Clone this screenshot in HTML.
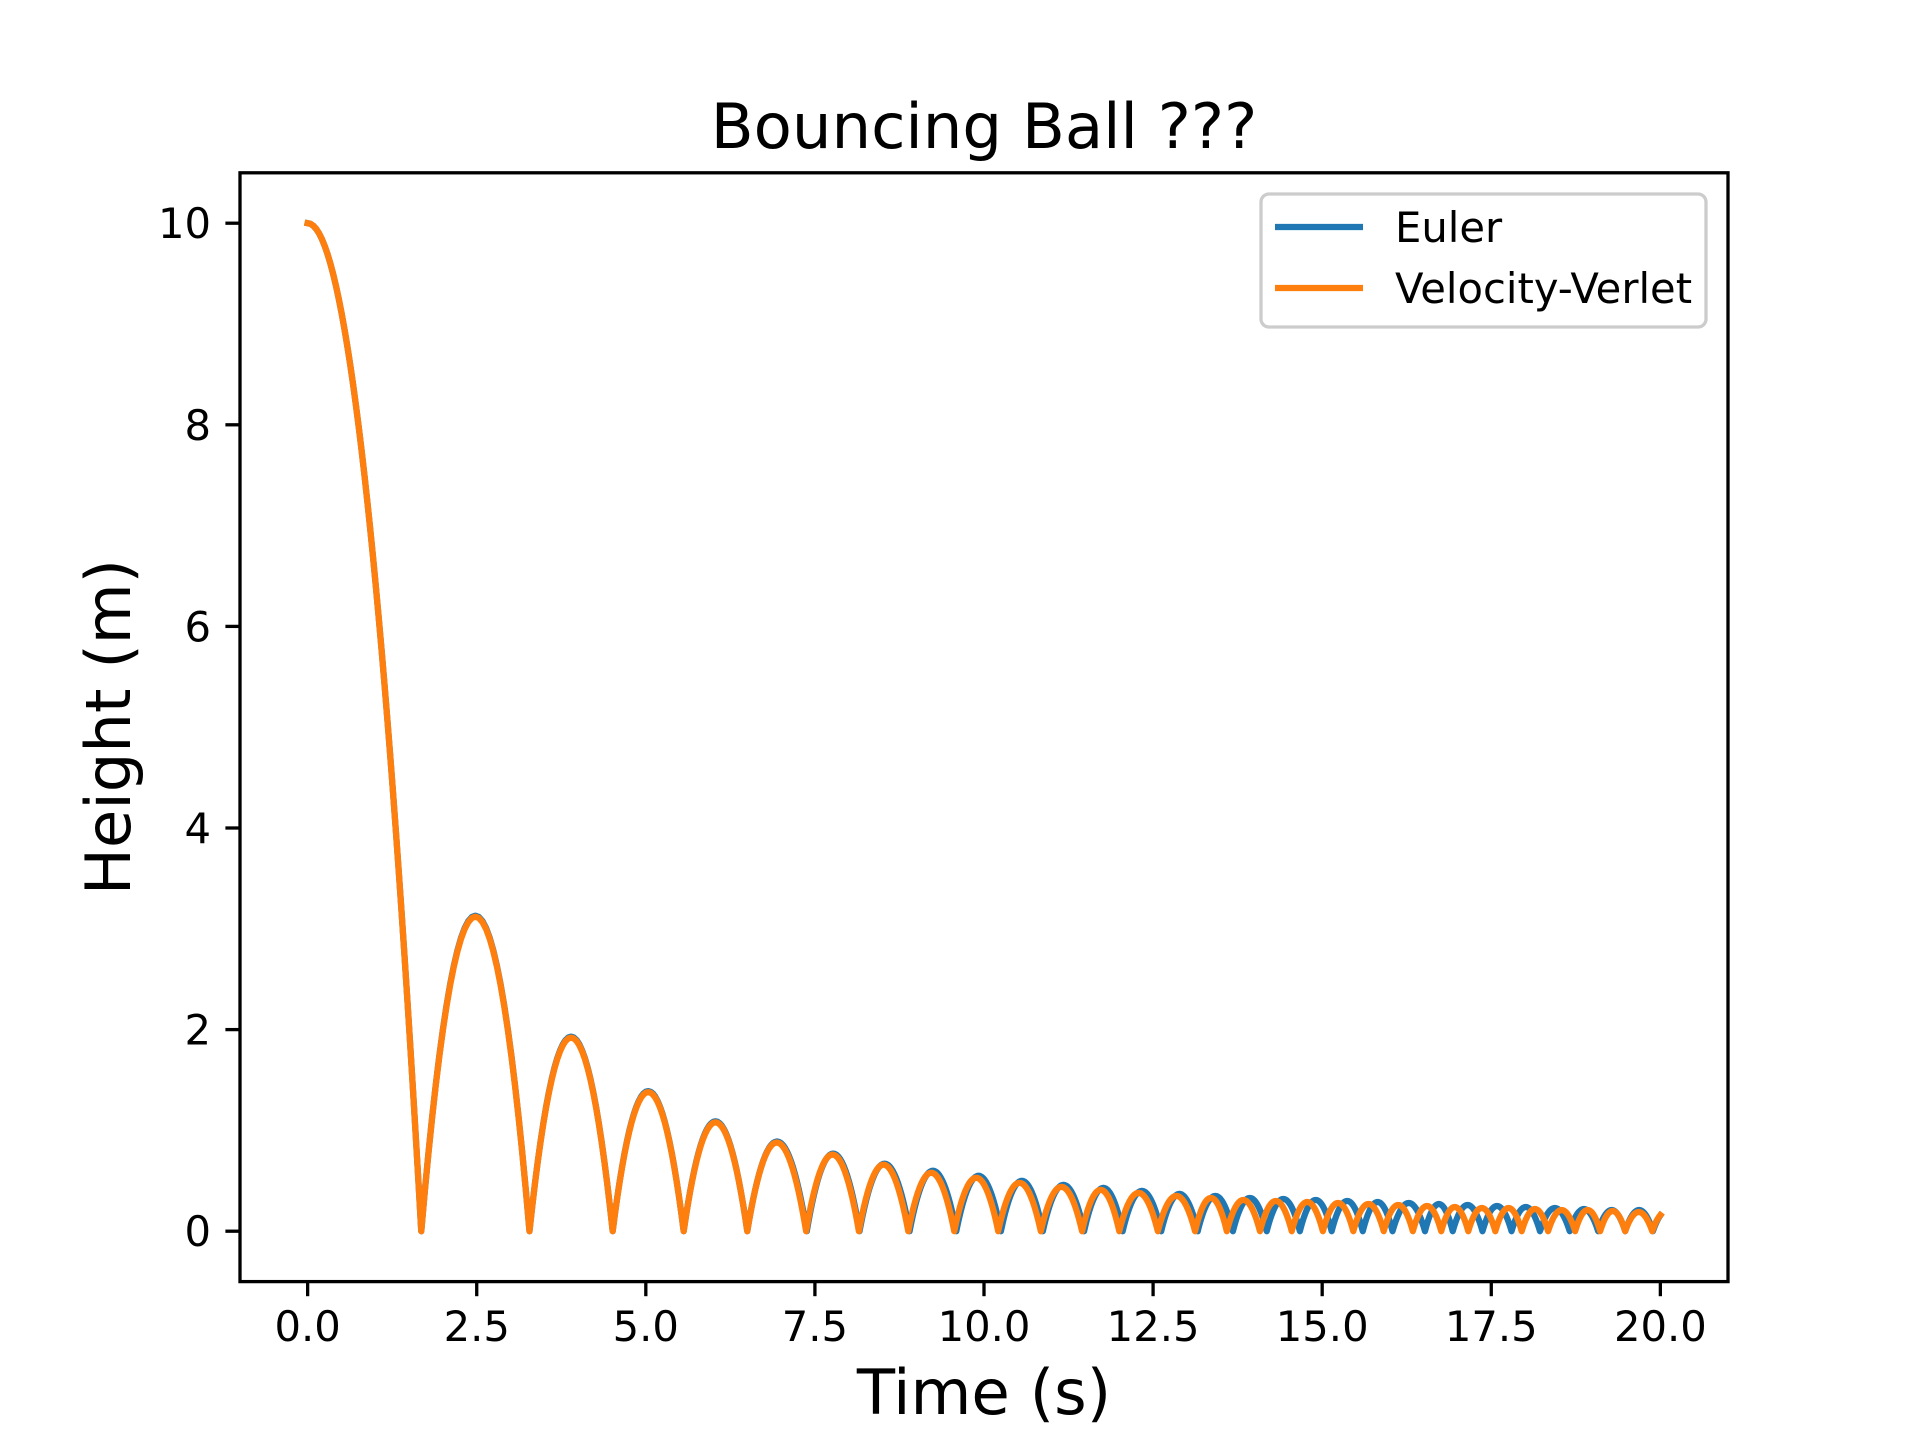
<!DOCTYPE html>
<html><head><meta charset="utf-8"><style>
html,body{margin:0;padding:0;background:#fff;}
svg{display:block;font-family:"DejaVu Sans","Liberation Sans",sans-serif;}
</style></head><body>
<svg id="chart" width="1920" height="1440" viewBox="0 0 1920 1440">
<rect x="0" y="0" width="1920" height="1440" fill="#fff"/>
<text x="984" y="148" font-size="62.5" text-anchor="middle">Bouncing Ball ???</text>
<g id="plot"></g>
<g id="axes"></g>
<text x="984" y="1414" font-size="62.5" text-anchor="middle">Time (s)</text>
<text transform="translate(130,727) rotate(-90)" font-size="62.5" text-anchor="middle">Height (m)</text>
<g>
<rect x="1261" y="194" width="445" height="133" rx="8" fill="#fff" fill-opacity="0.8" stroke="#cccccc" stroke-width="3.3"/>
<line x1="1275" y1="227" x2="1363" y2="227" stroke="#1f77b4" stroke-width="6.25"/>
<text x="1395" y="242" font-size="41.7">Euler</text>
<line x1="1275" y1="288" x2="1363" y2="288" stroke="#ff7f0e" stroke-width="6.25"/>
<text x="1395" y="303" font-size="41.7">Velocity-Verlet</text>
</g>
</svg>
<script>
// ---- data ----
const startHeight = 10;
const xTicks = [0, 2.5, 5, 7.5, 10, 12.5, 15, 17.5, 20];
const xTickLabels = ["0.0","2.5","5.0","7.5","10.0","12.5","15.0","17.5","20.0"];
const yTicks = [0, 2, 4, 6, 8, 10];
const yTickLabels = ["0","2","4","6","8","10"];
const tEnd = 20;
const verletImpacts = [1.68,3.28,4.51,5.56,6.50,7.37,8.15,8.88,9.56,10.21,10.84,11.45,12.0,12.57,13.12,13.59,14.08,14.55,15.01,15.46,15.91,16.34,16.76,17.16,17.56,17.95,18.34,18.74,19.11,19.48,19.88];
const verletPeaks = [3.12,1.92,1.38,1.08,0.88,0.76,0.66,0.58,0.53,0.48,0.44,0.41,0.38,0.35,0.33,0.31,0.30,0.29,0.28,0.27,0.26,0.25,0.24,0.23,0.23,0.22,0.21,0.21,0.20,0.19,0.19];
const eulerImpacts = [1.68,3.28,4.51,5.56,6.50,7.38,8.16,8.90,9.59,10.25,10.87,11.48,12.05,12.62,13.16,13.68,14.18,14.67,15.14,15.60,16.04,16.52,16.93,17.37,17.80,18.22,18.66,19.08,19.48,19.89];
const eulerPeaks = [3.13,1.93,1.39,1.09,0.89,0.77,0.67,0.60,0.55,0.50,0.46,0.43,0.40,0.37,0.35,0.33,0.32,0.31,0.30,0.29,0.28,0.27,0.26,0.25,0.24,0.23,0.22,0.21,0.21,0.20];

// ---- axes ----
const L=240,R=1728,T=172.8,B=1281.6;
const xMin=-1,xMax=21,yMin=-0.5,yMax=10.5;
const xs=v=>L+(v-xMin)/(xMax-xMin)*(R-L);
const ys=v=>B-(v-yMin)/(yMax-yMin)*(B-T);
const NS="http://www.w3.org/2000/svg";
function mk(tag,attrs,parent){const e=document.createElementNS(NS,tag);for(const k in attrs)e.setAttribute(k,attrs[k]);parent.appendChild(e);return e;}

function seriesPath(impacts,peaks){
  const pts=[];
  const a0=impacts[0];
  for(let i=0;i<=40;i++){const t=a0*i/40;pts.push([t,startHeight*(1-(t/a0)*(t/a0))]);}
  for(let k=0;k<peaks.length;k++){
    const a=impacts[k];
    let b=k+1<impacts.length?impacts[k+1]:a+(impacts[k]-impacts[k-1]);
    const H=peaks[k];
    const n=30;
    for(let i=1;i<=n;i++){
      const t=a+(b-a)*i/n;
      if(t>tEnd){const h=4*H*(tEnd-a)*(b-tEnd)/((b-a)*(b-a));pts.push([tEnd,h]);break;}
      pts.push([t,4*H*(t-a)*(b-t)/((b-a)*(b-a))]);
    }
    if(b>=tEnd)break;
  }
  return pts.map((p,i)=>(i?'L':'M')+xs(p[0]).toFixed(2)+' '+ys(p[1]).toFixed(2)).join(' ');
}
const plot=document.getElementById('plot');
const pe=mk('path',{d:seriesPath(eulerImpacts,eulerPeaks),fill:'none',stroke:'#1f77b4','stroke-width':6.25,'stroke-linejoin':'round','stroke-linecap':'square'},plot);


const pv=mk('path',{d:seriesPath(verletImpacts,verletPeaks),fill:'none',stroke:'#ff7f0e','stroke-width':6.25,'stroke-linejoin':'round','stroke-linecap':'square'},plot);



const ax=document.getElementById('axes');
const frame=mk('rect',{x:L,y:T,width:R-L,height:B-T,fill:'none',stroke:'#000','stroke-width':3.3},ax);


xTicks.forEach((v,i)=>{
  const tk=mk('line',{x1:xs(v),x2:xs(v),y1:B,y2:B+14.6,stroke:'#000','stroke-width':3.3},ax);
  
  
  const tl=mk('text',{x:xs(v),y:1341,'font-size':41.7,'text-anchor':'middle'},ax);
  tl.textContent=xTickLabels[i];
  
  
});
yTicks.forEach((v,i)=>{
  const tk=mk('line',{x1:L-14.6,x2:L,y1:ys(v),y2:ys(v),stroke:'#000','stroke-width':3.3},ax);
  
  
  const tl=mk('text',{x:211,y:ys(v)+15,'font-size':41.7,'text-anchor':'end'},ax);
  tl.textContent=yTickLabels[i];
  
  
});
</script>
</body></html>
